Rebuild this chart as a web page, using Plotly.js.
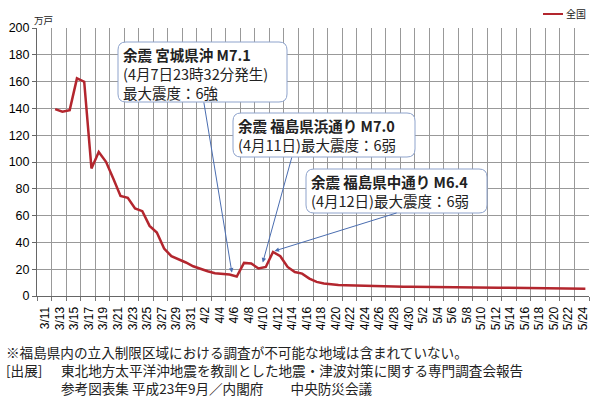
<!DOCTYPE html>
<html>
<head>
<meta charset="utf-8">
<script src="https://cdn.plot.ly/plotly-3.0.1.min.js"></script>
<style>
  html, body { margin: 0; padding: 0; background: #fff; }
  #chart { width: 600px; height: 410px; }
</style>
</head>
<body>
<div id="chart"></div>
<script>
// 断水戸数の推移（万戸）
const seriesName = '全国';
const unitLabel = '万戸';

const dates = [
  '2011-03-13', '2011-03-14', '2011-03-15', '2011-03-16', '2011-03-17', '2011-03-18',
  '2011-03-19', '2011-03-20', '2011-03-21', '2011-03-22', '2011-03-23', '2011-03-24',
  '2011-03-25', '2011-03-26', '2011-03-27', '2011-03-28', '2011-03-29', '2011-03-30',
  '2011-03-31', '2011-04-01', '2011-04-02', '2011-04-03', '2011-04-04', '2011-04-05',
  '2011-04-06', '2011-04-07', '2011-04-08', '2011-04-09', '2011-04-10', '2011-04-11',
  '2011-04-12', '2011-04-13', '2011-04-14', '2011-04-15', '2011-04-16', '2011-04-17',
  '2011-04-18', '2011-04-19', '2011-04-20', '2011-04-21', '2011-04-22', '2011-04-23',
  '2011-04-24', '2011-04-25', '2011-04-26', '2011-04-27', '2011-04-28', '2011-04-29',
  '2011-04-30', '2011-05-01', '2011-05-02', '2011-05-03', '2011-05-04', '2011-05-05',
  '2011-05-06', '2011-05-07', '2011-05-08', '2011-05-09', '2011-05-10', '2011-05-11',
  '2011-05-12', '2011-05-13', '2011-05-14', '2011-05-15', '2011-05-16', '2011-05-17',
  '2011-05-18', '2011-05-19', '2011-05-20', '2011-05-21', '2011-05-22', '2011-05-23',
  '2011-05-24', '2011-05-25'
];

const households = [
  139.5, 137.5, 138.7, 162.4, 159.9, 95.2,
  107.4, 100.1, 87.7, 74.7, 73.2, 65.3,
  63.3, 52.3, 47.4, 35.4, 29.7, 27.6,
  25.0, 22.2, 20.2, 18.5, 17.0, 16.6,
  16.0, 14.5, 24.7, 24.2, 20.5, 21.7,
  32.9, 29.7, 21.7, 17.9, 16.7, 13.0,
  10.5, 9.3, 8.5, 8.2, 8.0, 7.8,
  7.6, 7.4, 7.3, 7.2, 7.1, 7.0,
  6.9, 6.9, 6.8, 6.8, 6.7, 6.6,
  6.6, 6.5, 6.5, 6.4, 6.4, 6.3,
  6.3, 6.2, 6.2, 6.1, 6.1, 6.0,
  6.0, 5.9, 5.9, 5.8, 5.7, 5.6,
  5.5, 5.4
];

const calloutTexts = [
  '<b>余震 宮城県沖 M7.1</b><br>(4月7日23時32分発生)<br>最大震度：6強',
  '<b>余震 福島県浜通り M7.0</b><br>(4月11日)最大震度：6弱',
  '<b>余震 福島県中通り M6.4</b><br>(4月12日)最大震度：6弱'
];

const footLines = [
  '※福島県内の立入制限区域における調査が不可能な地域は含まれていない。',
  '[出展]',
  '東北地方太平洋沖地震を教訓とした地震・津波対策に関する専門調査会報告',
  '参考図表集 平成23年9月／内閣府　　中央防災会議'
];

const FONT = "'Liberation Sans', Arial, 'Noto Sans CJK JP', sans-serif";
const JFONT = "'Noto Sans CJK JP', 'Liberation Sans', sans-serif";

// plot area in pixels
const L = 37, T = 28, W = 552, H = 268;
const px = x => (x - L) / W;
const py = y => (T + H - y) / H;

function roundRect(x0, y0, x1, y1, r) {
  const rx = r / W, ry = r / H;
  const a = px(x0), b = px(x1), top = py(y0), bot = py(y1);
  return `M ${a + rx},${top} L ${b - rx},${top} Q ${b},${top} ${b},${top - ry} ` +
    `L ${b},${bot + ry} Q ${b},${bot} ${b - rx},${bot} L ${a + rx},${bot} ` +
    `Q ${a},${bot} ${a},${bot + ry} L ${a},${top - ry} Q ${a},${top} ${a + rx},${top} Z`;
}

const boxes = [
  [118, 42, 287, 102],
  [233, 113, 415, 157],
  [306, 169, 487, 213]
];

const trace = {
  x: dates,
  y: households,
  type: 'scatter',
  mode: 'lines',
  name: seriesName,
  line: { color: '#b3262e', width: 2.5 },
  showlegend: false
};

const shapes = boxes.map(b => ({
  type: 'path', xref: 'paper', yref: 'paper', layer: 'above',
  path: roundRect(b[0], b[1], b[2], b[3], 8),
  line: { color: '#8ea3cc', width: 1 },
  fillcolor: '#ffffff'
}));
// legend sample
shapes.push({
  type: 'line', xref: 'paper', yref: 'paper',
  x0: px(543), x1: px(563), y0: py(14), y1: py(14),
  line: { color: '#b3262e', width: 2 }
});

const arrowStyle = {
  showarrow: true, arrowhead: 2, arrowsize: 0.9, arrowwidth: 1,
  arrowcolor: '#4a6db0', text: '', xref: 'x', yref: 'y',
  borderpad: 0, borderwidth: 0
};

const annotations = [
  // callout texts
  { text: calloutTexts[0], x: px(123), y: py(73), xanchor: 'left', yanchor: 'middle' },
  { text: calloutTexts[1], x: px(238), y: py(135), xanchor: 'left', yanchor: 'middle' },
  { text: calloutTexts[2], x: px(311), y: py(191), xanchor: 'left', yanchor: 'middle' }
].map(a => Object.assign(a, {
  xref: 'paper', yref: 'paper', showarrow: false, align: 'left',
  borderpad: 0, borderwidth: 0,
  font: { family: JFONT, size: 14.5, color: '#222' }
}));

annotations.push(
  Object.assign({ x: '2011-04-06 08:00', y: 17.5, ax: -28, ay: -170 }, arrowStyle),
  Object.assign({ x: '2011-04-10 14:00', y: 25, ax: 29, ay: -105 }, arrowStyle),
  Object.assign({ x: '2011-04-12 05:00', y: 33.6, ax: 122, ay: -38 }, arrowStyle)
);

// unit, legend text, footer
const footFont = { family: JFONT, size: 13.6, color: '#222' };
const plain = { xref: 'paper', yref: 'paper', xanchor: 'left', yanchor: 'middle',
  showarrow: false, borderpad: 0, borderwidth: 0 };
annotations.push(
  Object.assign({ text: unitLabel, x: px(34), y: py(20),
    font: { family: JFONT, size: 9.5, color: '#222' } }, plain),
  Object.assign({ text: seriesName, x: px(566), y: py(14),
    font: { family: JFONT, size: 10, color: '#222' } }, plain),
  Object.assign({ text: footLines[0], x: px(6), y: py(352), font: footFont }, plain),
  Object.assign({ text: footLines[1], x: px(6), y: py(370), font: footFont }, plain),
  Object.assign({ text: footLines[2], x: px(61), y: py(370), font: footFont }, plain),
  Object.assign({ text: footLines[3], x: px(61), y: py(388), font: footFont }, plain)
);

const DAY2 = 2 * 24 * 3600 * 1000;

const layout = {
  width: 600, height: 410,
  margin: { l: L, r: 600 - L - W, t: T, b: 410 - T - H, pad: 0 },
  paper_bgcolor: '#fff', plot_bgcolor: '#fff',
  font: { family: FONT, color: '#111' },
  showlegend: false,
  xaxis: {
    type: 'date',
    range: ['2011-03-10 12:00', '2011-05-25 12:00'],
    tickmode: 'linear', tick0: '2011-03-11 16:00', dtick: DAY2,
    tickformat: '%-m/%-d', tickangle: -90,
    tickfont: { size: 12, color: '#000' },
    ticks: 'outside', ticklen: 5, tickcolor: 'rgba(0,0,0,0)',
    showgrid: false,
    minor: {
      tick0: '2011-03-10 12:00', dtick: DAY2,
      ticks: 'outside', ticklen: 4, tickcolor: '#777',
      showgrid: true, gridcolor: '#999999', gridwidth: 1
    },
    showline: true, linecolor: '#666', linewidth: 1,
    zeroline: false, fixedrange: true
  },
  yaxis: {
    range: [0, 200], dtick: 20, tickmode: 'linear',
    tickfont: { size: 12.5, color: '#000' },
    ticks: 'outside', ticklen: 4, tickcolor: '#666',
    showgrid: true, gridcolor: '#999999', gridwidth: 1,
    showline: true, linecolor: '#666', linewidth: 1,
    zeroline: false, fixedrange: true
  },
  shapes: shapes,
  annotations: annotations
};

Plotly.newPlot('chart', [trace], layout, { displayModeBar: false, staticPlot: true });
</script>
</body>
</html>
